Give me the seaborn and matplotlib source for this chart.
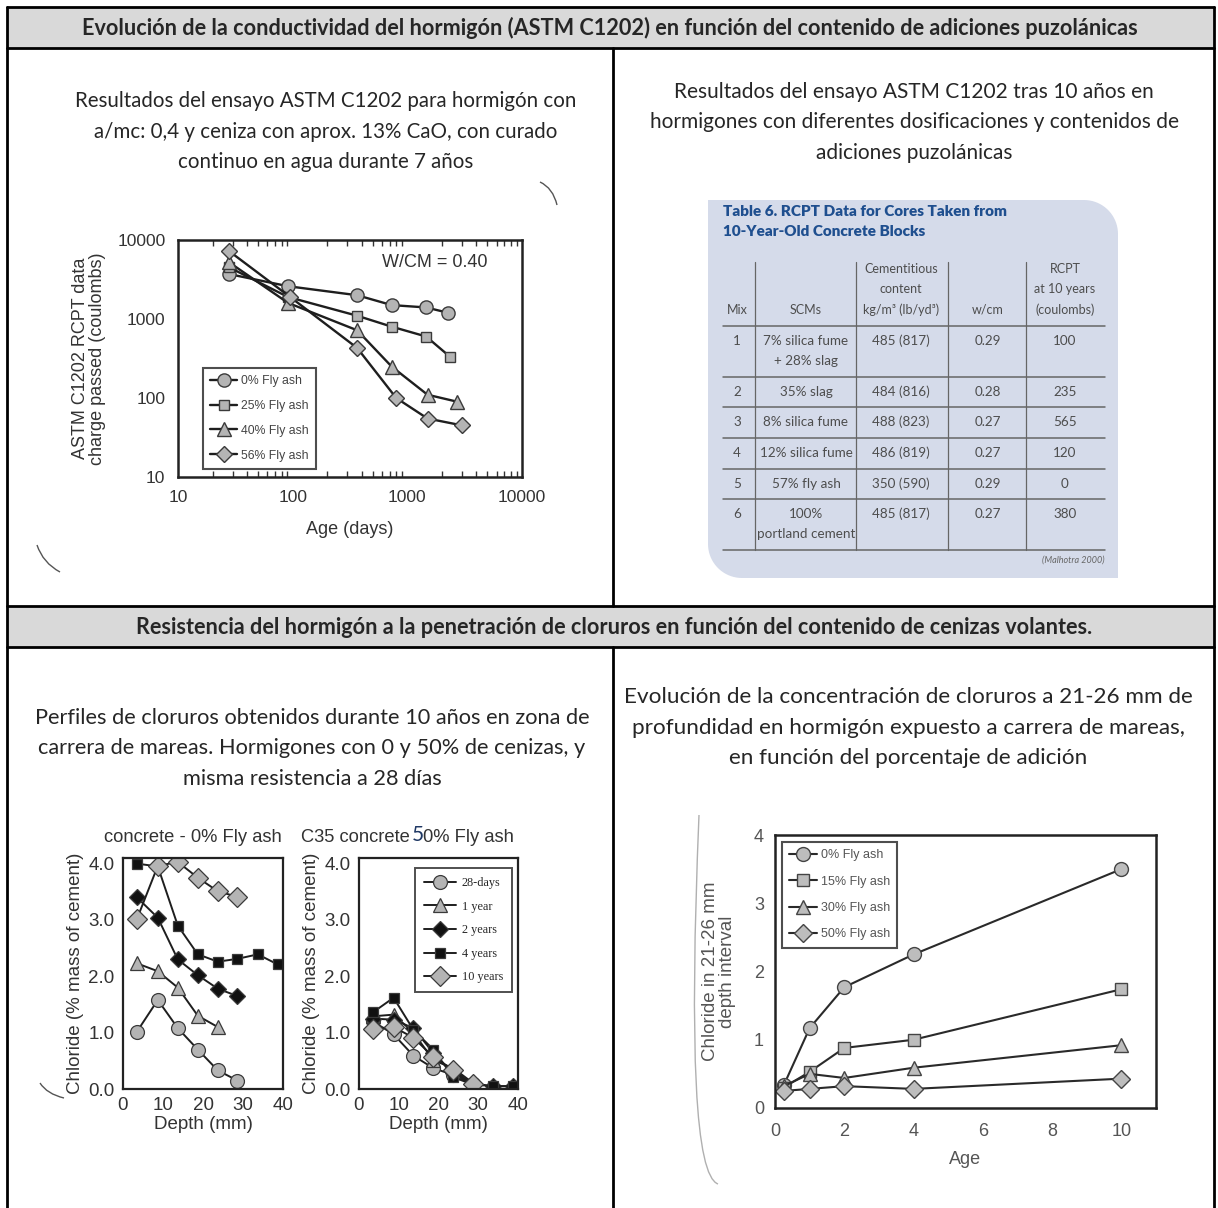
import numpy as np
import matplotlib
matplotlib.use('Agg')
import matplotlib.pyplot as plt
from matplotlib.patches import Rectangle, PathPatch
from matplotlib.path import Path
from matplotlib.ticker import NullLocator, NullFormatter, LogLocator, MultipleLocator
import seaborn as sns

sns.set_style('white')
plt.rcParams['font.family'] = ['Liberation Sans', 'DejaVu Sans']

W, H = 1218, 1208

# ── textos de la tabla (documento) ────────────────────────────
HEADER_1 = ('Evolución de la conductividad del hormigón (ASTM C1202) en función '
            'del contenido de adiciones puzolánicas')
HEADER_2 = ('Resistencia del hormigón a la penetración de cloruros en función '
            'del contenido de cenizas volantes.')
CAP_TL = ['Resultados del ensayo ASTM C1202 para hormigón con',
          'a/mc: 0,4 y ceniza con aprox. 13% CaO, con curado',
          'continuo en agua durante 7 años']
CAP_TR = ['Resultados del ensayo ASTM C1202 tras 10 años en',
          'hormigones con diferentes dosificaciones y contenidos de',
          'adiciones puzolánicas']
CAP_BL = ['Perfiles de cloruros obtenidos durante 10 años en zona de',
          'carrera de mareas. Hormigones con 0 y 50% de cenizas, y',
          'misma resistencia a 28 días']
CAP_BR = ['Evolución de la concentración de cloruros a 21-26 mm de',
          'profundidad en hormigón expuesto a carrera de mareas,',
          'en función del porcentaje de adición']

# ── datos: ASTM C1202 vs edad ─────────────────────────────────
AGE_0 = [28, 91, 365, 730, 1460, 2260]
RCPT_0 = [3700, 2600, 2000, 1500, 1400, 1200]
AGE_25 = [28, 91, 365, 730, 1460, 2370]
RCPT_25 = [4500, 1900, 1100, 800, 600, 330]
AGE_40 = [28, 91, 365, 730, 1500, 2700]
RCPT_40 = [5200, 1600, 720, 250, 110, 90]
AGE_56 = [28, 95, 365, 800, 1500, 3000]
RCPT_56 = [7200, 1900, 430, 100, 55, 45]
LOG_TICKS = [10, 100, 1000, 10000]

# ── datos: tabla 6 ────────────────────────────────────────────
MIX = ['1', '2', '3', '4', '5', '6']
SCMS = ['7% silica fume\n+ 28% slag', '35% slag', '8% silica fume',
        '12% silica fume', '57% fly ash', '100%\nportland cement']
CEMENT = ['485 (817)', '484 (816)', '488 (823)', '486 (819)', '350 (590)', '485 (817)']
WCM = ['0.29', '0.28', '0.27', '0.27', '0.29', '0.27']
RCPT10 = ['100', '235', '565', '120', '0', '380']

# ── datos: perfiles de cloruros ───────────────────────────────
DEPTH = [3.5, 8.7, 13.7, 18.7, 23.7, 28.6, 33.7, 38.7]
OPC_28D = [1.02, 1.58, 1.08, 0.70, 0.33, 0.15]
OPC_1Y = [2.23, 2.09, 1.80, 1.30, 1.10]
OPC_2Y = [3.40, 3.04, 2.30, 2.02, 1.78, 1.65]
OPC_4Y = [4.00, 3.95, 2.90, 2.39, 2.26, 2.31, 2.39, 2.21]
OPC_10Y = [3.02, 3.96, 4.03, 3.75, 3.51, 3.41]
FA_28D = [1.20, 0.97, 0.59, 0.37, 0.25, 0.08]
FA_1Y = [1.29, 1.32, 1.00, 0.51, 0.37, 0.11]
FA_2Y = [1.25, 1.23, 1.08, 0.64, 0.28, 0.10, 0.05, 0.05]
FA_4Y = [1.36, 1.62, 1.05, 0.70, 0.21, 0.08, 0.05, 0.05]
FA_10Y = [1.07, 1.10, 0.91, 0.57, 0.34, 0.08]

# ── datos: cloruros a 21-26 mm vs edad ────────────────────────
AGE_Y = [0.25, 1, 2, 4, 10]
CL_0 = [0.33, 1.17, 1.77, 2.25, 3.50]
CL_15 = [0.30, 0.53, 0.88, 1.00, 1.74]
CL_30 = [0.32, 0.50, 0.44, 0.59, 0.92]
CL_50 = [0.25, 0.28, 0.32, 0.28, 0.43]

fig = plt.figure(figsize=(W / 100, H / 100), dpi=100)
bg = fig.add_axes([0, 0, 1, 1])
bg.set_xlim(0, W)
bg.set_ylim(H, 0)
bg.axis('off')


def px_axes(l, t, r, b):
    return fig.add_axes([l / W, 1 - b / H, (r - l) / W, (b - t) / H])


DOC_FONT = ['Lato', 'DejaVu Sans']

# ── marco del documento ───────────────────────────────────────
L, R, T = 7, 1214, 7
for y0, y1 in [(7, 48), (606, 647)]:
    bg.add_patch(Rectangle((L, y0), R - L, y1 - y0, fc='#d9d9d9', ec='none'))
for y in [7, 48, 606, 647]:
    bg.plot([L, R], [y, y], color='black', lw=2)
bg.plot([L, L], [T, H], color='black', lw=2)
bg.plot([R, R], [T, H], color='black', lw=2)
bg.plot([613, 613], [48, 606], color='black', lw=2)
bg.plot([613, 613], [647, H], color='black', lw=2)

bg.text(610, 28, HEADER_1, ha='center', va='center', fontsize=15.6,
        fontweight='bold', family=DOC_FONT)
bg.text(614, 627, HEADER_2, ha='center', va='center', fontsize=15.6,
        fontweight='bold', family=DOC_FONT)

for lines, cx, y0, fs in [(CAP_TL, 326, 101, 14.8), (CAP_TR, 914, 92, 15.0),
                          (CAP_BL, 312, 718, 15.7), (CAP_BR, 908, 697, 16.2)]:
    for i, s in enumerate(lines):
        bg.text(cx, y0 + 30.5 * i, s, ha='center', va='center',
                fontsize=fs, family=DOC_FONT)

# trazos curvos del escaneo (decoración)
for p0, pc, p1, col in [((540, 182), (553, 188), (557, 205), '#555555'),
                        ((37, 545), (43, 563), (60, 572), '#555555'),
                        ((40, 1083), (47, 1094), (64, 1098), '#555555'),
                        ((699, 815), (684, 1172), (718, 1184), '#b0b0b0')]:
    bg.add_patch(PathPatch(Path([p0, pc, p1], [Path.MOVETO, Path.CURVE3, Path.CURVE3]),
                           fc='none', ec=col, lw=1.0))

# ── Figura 1: ASTM C1202 vs edad ──────────────────────────────
LINE_C = '#1e1e1e'
GRAY_F = '#b4b4b4'
EDGE_C = '#3a3a3a'

ax1 = px_axes(178, 240, 522, 477)
for ages, vals, mk, ms, lab in [(AGE_0, RCPT_0, 'o', 9.5, '0% Fly ash'),
                                (AGE_25, RCPT_25, 's', 7.5, '25% Fly ash'),
                                (AGE_40, RCPT_40, '^', 9.5, '40% Fly ash'),
                                (AGE_56, RCPT_56, 'D', 8.5, '56% Fly ash')]:
    sns.lineplot(x=ages, y=vals, ax=ax1, color=LINE_C, lw=1.7, marker=mk,
                 markersize=ms, markerfacecolor=GRAY_F, markeredgecolor=EDGE_C,
                 markeredgewidth=1.0, label=lab, sort=False)
ax1.set_xscale('log')
ax1.set_yscale('log')
ax1.set_xlim(10, 10000)
ax1.set_ylim(10, 10000)
ax1.set_xticks(LOG_TICKS)
ax1.set_xticklabels([str(v) for v in LOG_TICKS])
ax1.set_yticks(LOG_TICKS)
ax1.set_yticklabels([str(v) for v in LOG_TICKS])
ax1.xaxis.set_minor_locator(LogLocator(base=10, subs=np.arange(2, 10)))
ax1.xaxis.set_minor_formatter(NullFormatter())
ax1.yaxis.set_minor_locator(NullLocator())
ax1.tick_params(axis='both', which='major', direction='out', length=5, width=1.2,
                labelsize=12.5, labelcolor='#333333', color='#333333', pad=4)
ax1.tick_params(axis='x', which='minor', direction='in', length=4, width=1,
                top=True, bottom=True, color='#333333')
for sp in ax1.spines.values():
    sp.set_linewidth(1.8)
    sp.set_color('#222222')
ax1.set_xlabel('Age (days)', fontsize=13, color='#333333', labelpad=12)
ax1.set_ylabel('ASTM C1202 RCPT data\ncharge passed (coulombs)', fontsize=13,
               color='#333333', labelpad=8, linespacing=1.0)
ax1.text(0.747, 0.903, 'W/CM = 0.40', transform=ax1.transAxes, ha='center',
         va='center', fontsize=13, color='#333333')
leg = ax1.legend(loc='lower left', bbox_to_anchor=(0.073, 0.034), borderaxespad=0,
                 fontsize=8.8, frameon=True, fancybox=False, handlelength=2.2,
                 labelspacing=1.05, handletextpad=0.3, borderpad=0.6)
leg.get_frame().set_edgecolor('#222222')
leg.get_frame().set_linewidth(1.5)
for t in leg.get_texts():
    t.set_color('#444444')

# ── Tabla 6 (imagen) ──────────────────────────────────────────
axt = px_axes(700, 195, 1125, 580)
axt.set_xlim(700, 1125)
axt.set_ylim(580, 195)
axt.axis('off')

x0, x1, y0, y1, rr = 708, 1118, 200, 578, 34
th = np.linspace(0, np.pi / 2, 20)
verts = [(x0, y0), (x1 - rr, y0)]
verts += [(x1 - rr + rr * np.sin(a), y0 + rr - rr * np.cos(a)) for a in th]
verts += [(x1, y1), (x0 + rr, y1)]
verts += [(x0 + rr - rr * np.sin(a), y1 - rr + rr * np.cos(a)) for a in th]
verts += [(x0, y0)]
axt.add_patch(PathPatch(Path(verts), fc='#d5dbea', ec='none'))

TBL_FONT = ['Lato', 'DejaVu Sans']
TITLE_C = '#1f4f8f'
TXT_C = '#4d4d4d'
axt.text(723, 212, 'Table 6. RCPT Data for Cores Taken from', fontsize=11,
         fontweight='heavy', color=TITLE_C, va='center', family=TBL_FONT)
axt.text(723, 232, '10-Year-Old Concrete Blocks', fontsize=11,
         fontweight='heavy', color=TITLE_C, va='center', family=TBL_FONT)

COL_X = [737, 806, 901, 988, 1065]
V_LINES = [755, 856, 948, 1026]
ROW_TOPS = [326, 377, 407, 438, 469, 499]
TBL_BOTTOM = 550
for vx in V_LINES:
    axt.plot([vx, vx], [262, TBL_BOTTOM], color='#666666', lw=0.9)
for hy in ROW_TOPS + [TBL_BOTTOM]:
    axt.plot([723, 1105], [hy, hy], color='#666666', lw=1.1)

head = [['Mix'], ['SCMs'], ['Cementitious', 'content', 'kg/m³ (lb/yd³)'],
        ['w/cm'], ['RCPT', 'at 10 years', '(coulombs)']]
for cx, lines in zip(COL_X, head):
    for i, s in enumerate(lines[::-1]):
        axt.text(cx, 310 - 20.5 * i, s, ha='center', va='center', fontsize=9,
                 color=TXT_C, family=TBL_FONT)

for r, top in enumerate(ROW_TOPS):
    cells = [MIX[r], SCMS[r], CEMENT[r], WCM[r], RCPT10[r]]
    for cx, cell in zip(COL_X, cells):
        for i, s in enumerate(cell.split('\n')):
            axt.text(cx, top + 15 + 20.5 * i, s, ha='center', va='center',
                     fontsize=9.7, color=TXT_C, family=TBL_FONT)
axt.text(1105, 560, '(Malhotra 2000)', ha='right', va='center', fontsize=6.5,
         style='italic', color='#666666', family=TBL_FONT)

# ── Figura 3: perfiles de cloruros ────────────────────────────
BLACK_F = '#111111'
prof_style = [('o', 10, GRAY_F, '28-days'),
              ('^', 10, GRAY_F, '1 year'),
              ('D', 8, BLACK_F, '2 years'),
              ('s', 7.5, BLACK_F, '4 years'),
              ('D', 10, GRAY_F, '10 years')]


def chloride_axes(ax, series, show_legend):
    for vals, (mk, ms, fc, lab) in zip(series, prof_style):
        sns.lineplot(x=DEPTH[:len(vals)], y=vals, ax=ax, color=LINE_C, lw=1.4,
                     marker=mk, markersize=ms, markerfacecolor=fc,
                     markeredgecolor=EDGE_C, markeredgewidth=0.9, label=lab,
                     sort=False)
    ax.set_xlim(0, 40)
    ax.set_ylim(0, 4.1)
    ax.set_xticks([0, 10, 20, 30, 40])
    ax.set_yticks([0, 1, 2, 3, 4])
    ax.set_yticklabels(['0.0', '1.0', '2.0', '3.0', '4.0'])
    ax.xaxis.set_minor_locator(MultipleLocator(5))
    ax.yaxis.set_minor_locator(MultipleLocator(0.5))
    ax.tick_params(axis='both', which='major', direction='out', length=4,
                   width=1.1, labelsize=13.5, labelcolor='#333333', pad=2)
    ax.tick_params(axis='both', which='minor', direction='in', length=3, width=1)
    for sp in ax.spines.values():
        sp.set_linewidth(1.6)
        sp.set_color('#222222')
    ax.set_ylabel('Chloride (% mass of cement)', fontsize=13.5, color='#333333',
                  labelpad=3)
    ax.set_xlabel('Depth (mm)', fontsize=13.5, color='#333333', labelpad=1)
    if show_legend:
        lg = ax.legend(loc='upper right', bbox_to_anchor=(0.96, 0.955),
                       borderaxespad=0, frameon=True, fancybox=False,
                       handlelength=2.6, labelspacing=0.95, handletextpad=0.5,
                       borderpad=0.7, prop={'family': 'Liberation Serif', 'size': 8.8})
        lg.get_frame().set_edgecolor('#222222')
        lg.get_frame().set_linewidth(1.4)
    else:
        ax.get_legend().remove()


ax2 = px_axes(123, 858, 283, 1089)
chloride_axes(ax2, [OPC_28D, OPC_1Y, OPC_2Y, OPC_4Y, OPC_10Y], False)
ax3 = px_axes(359, 858, 518, 1089)
chloride_axes(ax3, [FA_28D, FA_1Y, FA_2Y, FA_4Y, FA_10Y], True)

bg.text(193, 838, 'concrete - 0% Fly ash', ha='center', va='center',
        fontsize=13.2, color='#333333')
bg.text(410, 838, 'C35 concrete', ha='right', va='center', fontsize=13.2,
        color='#333333')
bg.text(418, 835, '5', ha='center', va='center', fontsize=15,
        color='#1f3864', family=DOC_FONT)
bg.text(423, 838, '0% Fly ash', ha='left', va='center', fontsize=13.2,
        color='#333333')

# ── Figura 4: cloruros a 21-26 mm vs edad ─────────────────────
ax4 = px_axes(775, 835, 1156, 1108)
for vals, mk, ms, lab in [(CL_0, 'o', 10, '0% Fly ash'),
                          (CL_15, 's', 8, '15% Fly ash'),
                          (CL_30, '^', 10, '30% Fly ash'),
                          (CL_50, 'D', 9, '50% Fly ash')]:
    sns.lineplot(x=AGE_Y, y=vals, ax=ax4, color='#2a2a2a', lw=1.5, marker=mk,
                 markersize=ms, markerfacecolor='#bdbdbd', markeredgecolor='#444444',
                 markeredgewidth=1.0, label=lab, sort=False)
ax4.set_xlim(0, 11)
ax4.set_ylim(0, 4)
ax4.set_xticks([0, 2, 4, 6, 8, 10])
ax4.set_yticks([0, 1, 2, 3, 4])
ax4.tick_params(axis='both', which='major', direction='out', length=4, width=1,
                labelsize=13, labelcolor='#555555', color='#333333', pad=4)
ax4.tick_params(axis='x', pad=7)
for sp in ax4.spines.values():
    sp.set_linewidth(1.8)
    sp.set_color('#222222')
ax4.set_xlabel('Age', fontsize=13, color='#555555', labelpad=8)
ax4.set_ylabel('Chloride in 21-26 mm\ndepth interval', fontsize=13.5,
               color='#555555', labelpad=13, linespacing=1.0)
lg4 = ax4.legend(loc='upper left', bbox_to_anchor=(0.018, 0.975), borderaxespad=0,
                 fontsize=9, frameon=True, fancybox=False, handlelength=2.2,
                 labelspacing=1.15, handletextpad=0.3, borderpad=0.6)
lg4.get_frame().set_edgecolor('#222222')
lg4.get_frame().set_linewidth(1.5)
for t in lg4.get_texts():
    t.set_color('#555555')

fig.savefig('out.png', dpi=100)
